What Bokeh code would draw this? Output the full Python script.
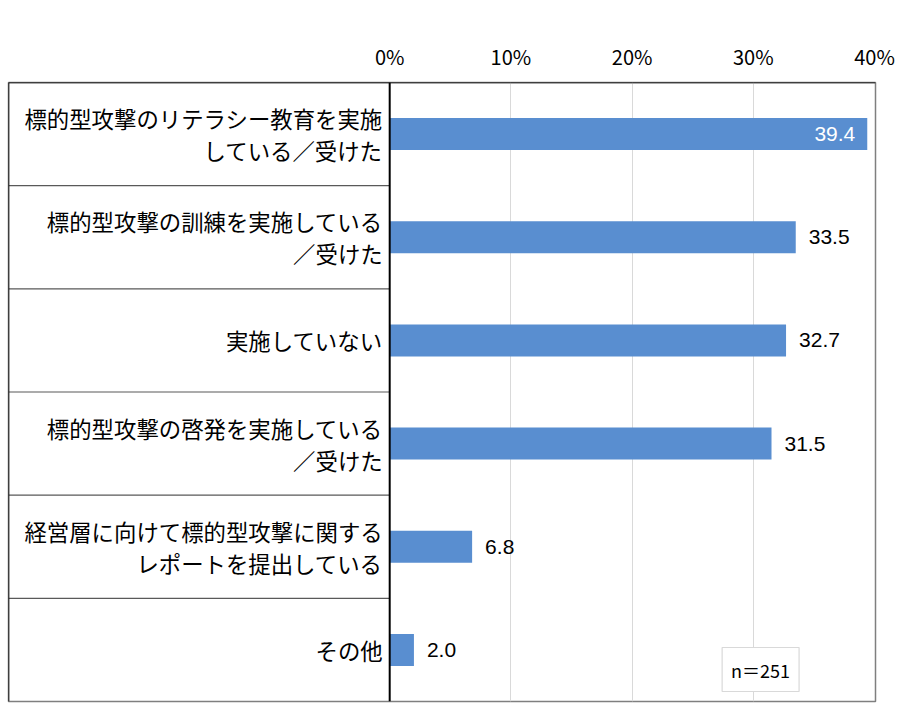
from bokeh.plotting import figure
from bokeh.models import ColumnDataSource, Range1d, FixedTicker, Span, Label, CustomJSTickFormatter
from bokeh.core.properties import value
from bokeh.embed import file_html
from bokeh.resources import INLINE

categories = [
    "標的型攻撃のリテラシー教育を実施\nしている／受けた",
    "標的型攻撃の訓練を実施している\n／受けた",
    "実施していない",
    "標的型攻撃の啓発を実施している\n／受けた",
    "経営層に向けて標的型攻撃に関する\nレポートを提出している",
    "その他",
]
values = [39.4, 33.5, 32.7, 31.5, 6.8, 2.0]
ticks = [0, 10, 20, 30, 40]
note = "n＝251"

FONT = "Noto Sans CJK JP"
NUM_FONT = "Liberation Sans"
BLUE = "#598ed0"

n = len(categories)
rows = [i + 0.5 for i in range(n)]

x_start = -31.45
x_end = 40.08

p = figure(width=897, height=711, output_backend="svg", toolbar_location=None,
           x_range=Range1d(x_start, x_end), y_range=Range1d(n, 0),
           x_axis_location="above", y_axis_location=None,
           min_border_left=8, min_border_right=22, min_border_top=82, min_border_bottom=10)

p.background_fill_color = "white"
p.border_fill_color = "white"
p.outline_line_color = "#7f7f7f"
p.outline_line_width = 1.5

# axis above: only tick labels
p.xaxis.ticker = FixedTicker(ticks=ticks)
p.xaxis.formatter = CustomJSTickFormatter(code="return tick + '%';")
p.xaxis.axis_line_color = None
p.xaxis.major_tick_line_color = None
p.xaxis.minor_tick_line_color = None
p.xaxis.major_label_standoff = 6
p.xaxis.major_label_text_font = FONT
p.xaxis.major_label_text_font_size = "20px"
p.xaxis.major_label_text_color = "#000000"

p.xgrid.ticker = FixedTicker(ticks=ticks[1:-1])
p.xgrid.grid_line_color = "#d9d9d9"
p.xgrid.grid_line_width = 1
p.ygrid.grid_line_color = None

# row separators in the label column
seps = list(range(1, n))
p.segment(x0=[x_start] * len(seps), x1=[0] * len(seps), y0=seps, y1=seps,
          line_color="#595959", line_width=1.2)

src = ColumnDataSource(data=dict(y=rows, v=values, cat=categories))
p.hbar(y="y", left=0, right="v", height=0.31, source=src,
       fill_color=BLUE, line_color=None)

# frame lines
p.add_layout(Span(location=0, dimension="height", line_color="#000000", line_width=2))
p.add_layout(Span(location=0, dimension="width", line_color="#000000", line_width=1.5))
p.add_layout(Span(location=x_start, dimension="height", line_color="#000000", line_width=1.5))

# category labels
p.text(x=0, y="y", text="cat", source=src, x_offset=-7,
       text_align="right", text_baseline="middle", text_line_height=1.0,
       text_font=value(FONT), text_font_size="22.4px", text_color="#000000")

# value labels
inside = ColumnDataSource(data=dict(y=rows[:1], v=values[:1], lbl=["%.1f" % v for v in values[:1]]))
outside = ColumnDataSource(data=dict(y=rows[1:], v=values[1:], lbl=["%.1f" % v for v in values[1:]]))
p.text(x="v", y="y", text="lbl", source=inside, x_offset=-12,
       text_align="right", text_baseline="middle",
       text_font=value(NUM_FONT), text_font_size="21px", text_color="#ffffff")
p.text(x="v", y="y", text="lbl", source=outside, x_offset=13,
       text_align="left", text_baseline="middle",
       text_font=value(NUM_FONT), text_font_size="21px", text_color="#000000")

p.add_layout(Label(x=30.6, y=5.69, text=note, text_align="center", text_baseline="middle",
                   text_font=FONT, text_font_size="18px", text_color="#000000",
                   border_line_color="#d9d9d9", border_line_width=1.2,
                   background_fill_color="white", padding=9))

open("out.html", "w").write(file_html(p, INLINE))
